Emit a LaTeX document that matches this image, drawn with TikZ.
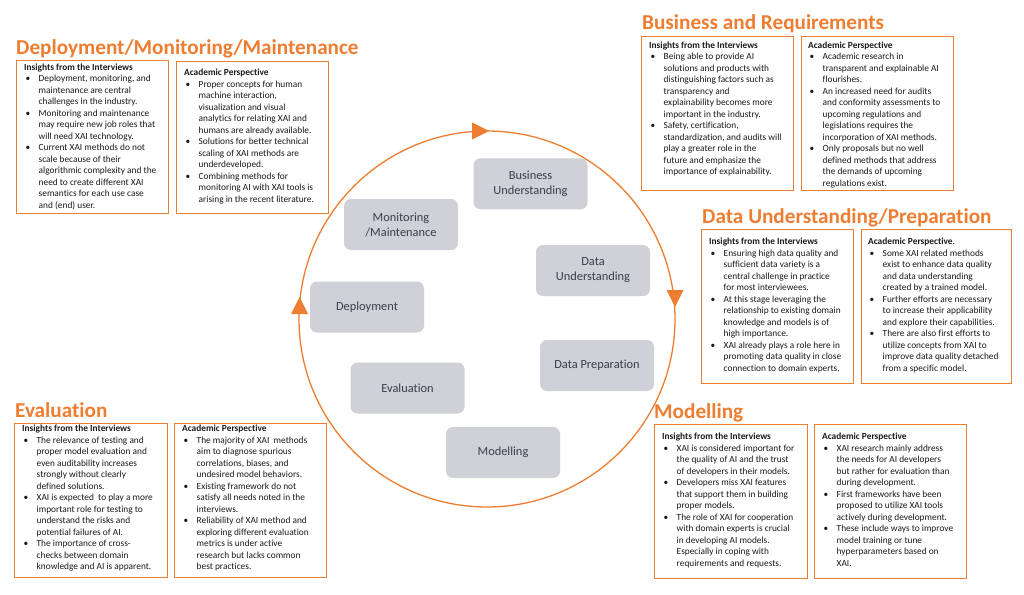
\documentclass[tikz,border=0pt]{standalone}
\usepackage{fontspec}
\setmainfont{Carlito}[Ligatures={NoCommon,NoContextual}]
\definecolor{orng}{HTML}{ED7D31}
\definecolor{boxgray}{HTML}{D0D0D8}
\definecolor{boxtext}{HTML}{3C3C4C}
\definecolor{bodytext}{HTML}{1A1A1A}
\newcommand{\xbul}{\makebox[14.5pt][l]{\hspace{1.5pt}\textbullet}}
\newcommand{\xind}{\makebox[14.5pt]{}}
\begin{document}
\begin{tikzpicture}[x=1pt,y=-1pt,
  heading/.style={font=\fontsize{21.2}{24}\selectfont\bfseries, text=orng, anchor=base west, inner sep=0pt},
  panel/.style={draw=orng, line width=1.1pt, anchor=north west, inner sep=0pt},
  ptext/.style={font=\fontsize{9.35}{11.5}\selectfont, text=bodytext, align=left, anchor=north west, inner sep=0pt},
  phase/.style={fill=boxgray, rounded corners=7pt, minimum width=114pt, minimum height=51pt, text=boxtext, font=\fontsize{12.4}{15}\selectfont, align=center, inner sep=0pt},
  cyc/.style={draw=orng, line width=1.3pt},
  tri/.style={fill=orng}
]
\fill[white] (0,0) rectangle (1024,594);
\useasboundingbox (0,0) rectangle (1024,594);

% cycle
\coordinate (cc) at (487,319);
\draw[cyc] (cc) circle[radius=188];
\fill[tri] (489,131) -- (472,122.5) -- (472,139.5) -- cycle;
\fill[tri] (675,307) -- (666.5,290) -- (683.5,290) -- cycle;
\fill[tri] (299.5,297) -- (291,314) -- (308,314) -- cycle;

% phases
\node[phase] (bu) at (530.5,183.8) {Business\\Understanding};
\node[phase] (mm) at (401,224.5) {Monitoring\\/Maintenance};
\node[phase] (du) at (593,270.5) {Data\\Understanding};
\node[phase] (dep) at (367,307) {Deployment};
\node[phase] (dp) at (597,365.5) {Data Preparation};
\node[phase] (ev) at (407.5,388) {Evaluation};
\node[phase] (mo) at (503,452.5) {Modelling};

% headings
\node[heading] (hdep) at (16,55) {Deployment/Monitoring/Maintenance};
\node[heading] (hbus) at (642,30) {Business and Requirements};
\node[heading] (hdat) at (702,223) {Data Understanding/Preparation};
\node[heading] (heva) at (15,417) {Evaluation};
\node[heading] (hmod) at (654,418) {Modelling};

% panels
\node[panel, minimum width=152pt, minimum height=153pt] (pdepi) at (16,60) {};
\node[panel, minimum width=152pt, minimum height=152pt] (pdepa) at (176,61) {};
\node[panel, minimum width=152pt, minimum height=154pt] (pbusi) at (641,36) {};
\node[panel, minimum width=152pt, minimum height=154pt] (pbusa) at (801,36) {};
\node[panel, minimum width=152pt, minimum height=154pt] (pdati) at (701,229) {};
\node[panel, minimum width=150pt, minimum height=154pt] (pdata) at (861,229) {};
\node[panel, minimum width=153pt, minimum height=154pt] (pevai) at (14,423) {};
\node[panel, minimum width=152pt, minimum height=154pt] (pevaa) at (174,423) {};
\node[panel, minimum width=153pt, minimum height=154pt] (pmodi) at (654,424) {};
\node[panel, minimum width=152pt, minimum height=154pt] (pmoda) at (814,424) {};

% texts
\node[ptext] (tdepi) at (24,63.7) {\textbf{Insights from the Interviews}\\
\xbul Deployment, monitoring, and\\
\xind maintenance are central\\
\xind challenges in the industry.\\
\xbul Monitoring and maintenance\\
\xind may require new job roles that\\
\xind will need XAI technology.\\
\xbul Current XAI methods do not\\
\xind scale because of their\\
\xind algorithmic complexity and the\\
\xind need to create different XAI\\
\xind semantics for each use case\\
\xind and (end) user.};

\node[ptext] (tdepa) at (184,69) {\textbf{Academic Perspective}\\
\xbul Proper concepts for human\\
\xind machine interaction,\\
\xind visualization and visual\\
\xind analytics for relating XAI and\\
\xind humans are already available.\\
\xbul Solutions for better technical\\
\xind scaling of XAI methods are\\
\xind underdeveloped.\\
\xbul Combining methods for\\
\xind monitoring AI with XAI tools is\\
\xind arising in the recent literature.};

\node[ptext] (tbusi) at (649,41.3) {\textbf{Insights from the Interviews}\\
\xbul Being able to provide AI\\
\xind solutions and products with\\
\xind distinguishing factors such as\\
\xind transparency and\\
\xind explainability becomes more\\
\xind important in the industry.\\
\xbul Safety, certification,\\
\xind standardization, and audits will\\
\xind play a greater role in the\\
\xind future and emphasize the\\
\xind importance of explainability.};

\node[ptext] (tbusa) at (808,41.3) {\textbf{Academic Perspective}\\
\xbul Academic research in\\
\xind transparent and explainable AI\\
\xind flourishes.\\
\xbul An increased need for audits\\
\xind and conformity assessments to\\
\xind upcoming regulations and\\
\xind legislations requires the\\
\xind incorporation of XAI methods.\\
\xbul Only proposals but no well\\
\xind defined methods that address\\
\xind the demands of upcoming\\
\xind regulations exist.};

\node[ptext] (tdati) at (709,238) {\textbf{Insights from the Interviews}\\
\xbul Ensuring high data quality and\\
\xind sufficient data variety is a\\
\xind central challenge in practice\\
\xind for most interviewees.\\
\xbul At this stage leveraging the\\
\xind relationship to existing domain\\
\xind knowledge and models is of\\
\xind high importance.\\
\xbul XAI already plays a role here in\\
\xind promoting data quality in close\\
\xind connection to domain experts.};

\node[ptext] (tdata) at (868,238) {\textbf{Academic Perspective}.\\
\xbul Some XAI related methods\\
\xind exist to enhance data quality\\
\xind and data understanding\\
\xind created by a trained model.\\
\xbul Further efforts are necessary\\
\xind to increase their applicability\\
\xind and explore their capabilities.\\
\xbul There are also first efforts to\\
\xind utilize concepts from XAI to\\
\xind improve data quality detached\\
\xind from a specific model.};

\node[ptext] (tevai) at (22,425) {\textbf{Insights from the Interviews}\\
\xbul The relevance of testing and\\
\xind proper model evaluation and\\
\xind even auditability increases\\
\xind strongly without clearly\\
\xind defined solutions.\\
\xbul XAI is expected\ \ to play a more\\
\xind important role for testing to\\
\xind understand the risks and\\
\xind potential failures of AI.\\
\xbul The importance of cross-\\
\xind checks between domain\\
\xind knowledge and AI is apparent.};

\node[ptext] (tevaa) at (182,425) {\textbf{Academic Perspective}\\
\xbul The majority of XAI\ \ methods\\
\xind aim to diagnose spurious\\
\xind correlations, biases, and\\
\xind undesired model behaviors.\\
\xbul Existing framework do not\\
\xind satisfy all needs noted in the\\
\xind interviews.\\
\xbul Reliability of XAI method and\\
\xind exploring different evaluation\\
\xind metrics is under active\\
\xind research but lacks common\\
\xind best practices.};

\node[ptext] (tmodi) at (662,433) {\textbf{Insights from the Interviews}\\
\xbul XAI is considered important for\\
\xind the quality of AI and the trust\\
\xind of developers in their models.\\
\xbul Developers miss XAI features\\
\xind that support them in building\\
\xind proper models.\\
\xbul The role of XAI for cooperation\\
\xind with domain experts is crucial\\
\xind in developing AI models.\\
\xind Especially in coping with\\
\xind requirements and requests.};

\node[ptext] (tmoda) at (822,433) {\textbf{Academic Perspective}\\
\xbul XAI research mainly address\\
\xind the needs for AI developers\\
\xind but rather for evaluation than\\
\xind during development.\\
\xbul First frameworks have been\\
\xind proposed to utilize XAI tools\\
\xind actively during development.\\
\xbul These include ways to improve\\
\xind model training or tune\\
\xind hyperparameters based on\\
\xind XAI.};
\end{tikzpicture}
\end{document}
